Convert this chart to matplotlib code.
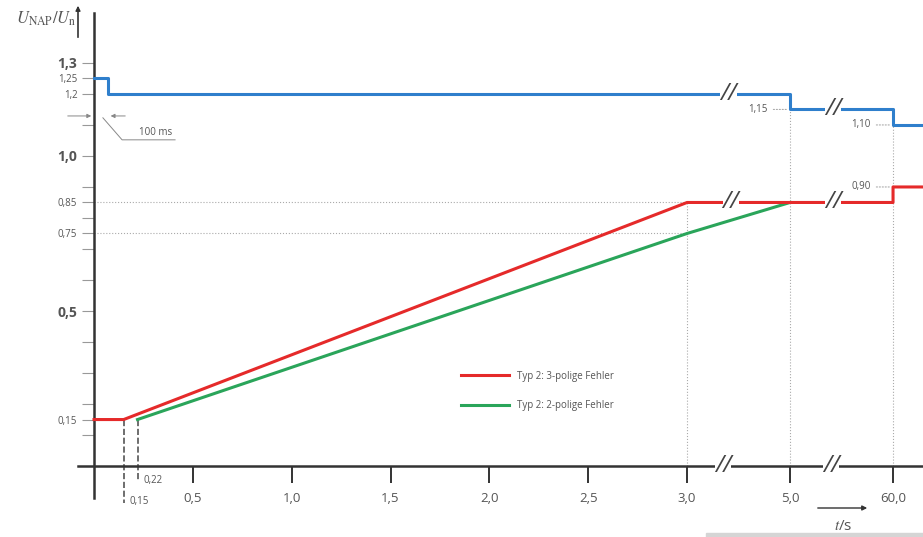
import numpy as np
import matplotlib.pyplot as plt

plt.rcParams['font.family'] = ['Open Sans', 'DejaVu Sans']
plt.rcParams['mathtext.fontset'] = 'stix'

# values (t in s, U in p.u.)
blue_t = [0, 0.07, 5, 60, 76]
blue_u = [1.25, 1.20, 1.15, 1.10, 1.10]
red_t = [0, 0.15, 3, 60, 60, 76]
red_u = [0.15, 0.15, 0.85, 0.85, 0.90, 0.90]
green_t = [0.22, 3, 5]
green_u = [0.15, 0.75, 0.85]

x_ticks = [0.5, 1.0, 1.5, 2.0, 2.5, 3.0, 5.0, 60.0]
x_labels = ['0,5', '1,0', '1,5', '2,0', '2,5', '3,0', '5,0', '60,0']
y_ticks = [0.1, 0.15, 0.2, 0.3, 0.4, 0.5, 0.6, 0.7, 0.75, 0.8, 0.85, 0.9,
           1.0, 1.1, 1.2, 1.25, 1.3]
y_labels = {0.15: '0,15', 0.5: '0,5', 0.75: '0,75', 0.85: '0,85',
            1.0: '1,0', 1.2: '1,2', 1.25: '1,25', 1.3: '1,3'}
y_bold = [0.5, 1.0, 1.3]

# broken time axis: 0..3 s linear, 3..5 s and 5..60 s squeezed
t_knots = [-1, 3, 5, 60, 120]
u_knots = [-1, 3, 3.521, 4.042, 4.042 + 60 * 0.521 / 55]


def fwd(t):
    return np.interp(t, t_knots, u_knots)


def inv(u):
    return np.interp(u, u_knots, t_knots)


axis_col = '#333333'
text_col = '#555555'
grid_col = '#aaaaaa'

fig = plt.figure(figsize=(9.23, 5.37), dpi=100)
ax = fig.add_axes([78 / 923, 39 / 537, 845 / 923, 485 / 537])
ax.set_xscale('function', functions=(fwd, inv))
ax.set_xlim(-0.081, 76)
ax.set_ylim(-0.103, 1.461)

# axes through the origin
for side in ['top', 'right']:
    ax.spines[side].set_visible(False)
ax.spines['left'].set_position(('data', 0))
ax.spines['bottom'].set_position(('data', 0))
for side in ['left', 'bottom']:
    ax.spines[side].set_color(axis_col)
    ax.spines[side].set_linewidth(1.8)

ax.set_xticks(x_ticks, x_labels)
ax.minorticks_off()
ax.tick_params(axis='x', direction='out', length=12, width=1.4, color=axis_col,
               pad=7, labelsize=9.5, labelcolor=text_col)
ax.set_yticks(y_ticks, [y_labels.get(v, '') for v in y_ticks])
ax.tick_params(axis='y', direction='out', length=9, width=0.8, color='#999999',
               pad=3, labelsize=7, labelcolor=text_col)
for v, lab in zip(y_ticks, ax.get_yticklabels()):
    if v in y_bold:
        lab.set_fontsize(10)
        lab.set_fontweight('bold')

# guide lines
dot = dict(color=grid_col, lw=0.8, ls=':', zorder=1)
ax.plot([0, 5], [0.85, 0.85], **dot)
ax.plot([0, 3], [0.75, 0.75], **dot)
ax.plot([3, 3], [0, 0.85], **dot)
ax.plot([5, 5], [0, 1.2], **dot)
ax.plot([60, 60], [0, 1.15], **dot)
ax.plot([0.15, 0.15], [0.15, -0.12], color=text_col, lw=1.2, ls='--', clip_on=False, zorder=1)
ax.plot([0.22, 0.22], [0.15, -0.045], color=text_col, lw=1.2, ls='--', clip_on=False, zorder=1)

# curves
ax.plot(blue_t, blue_u, color='#2f7fcc', lw=2.2, drawstyle='steps-post', zorder=3)
red_line, = ax.plot(red_t, red_u, color='#e52a2a', lw=2.2, zorder=3,
                    label='Typ 2: 3-polige Fehler')
green_line, = ax.plot(green_t, green_u, color='#2aa55a', lw=2.2, zorder=2,
                      label='Typ 2: 2-polige Fehler')

# value labels at the steps
for t, v, txt in [(5, 1.15, '1,15'), (60, 1.10, '1,10'), (60, 0.90, '0,90')]:
    ax.annotate(txt, xy=(t, v), xytext=(-16, 0), textcoords='offset points',
                ha='right', va='center', fontsize=7, color=text_col)
    ax.annotate('', xy=(t, v), xytext=(-14, 0), textcoords='offset points',
                arrowprops=dict(arrowstyle='-', color=grid_col, lw=0.8, ls=':'))
ax.text(0.25, -0.045, '0,22', fontsize=7, color=text_col, va='center')
ax.text(0.18, -0.115, '0,15', fontsize=7, color=text_col, va='center')

# axis breaks
for t, v in [(3.8, 1.2), (28, 1.15), (3.85, 0.85), (28, 0.85), (3.7, 0), (27, 0)]:
    ax.text(t, v, '//', ha='center', va='center', fontsize=17, color='#444444',
            fontstyle='italic', bbox=dict(fc='white', ec='none', pad=0.05),
            zorder=6, clip_on=False)

# 100 ms annotation
gray = '#888888'
ax.annotate('', xy=(0, 1.129), xytext=(-0.147, 1.129),
            arrowprops=dict(arrowstyle='-|>', color=gray, lw=0.7, mutation_scale=6),
            annotation_clip=False)
ax.annotate('', xy=(0.07, 1.129), xytext=(0.172, 1.129),
            arrowprops=dict(arrowstyle='-|>', color=gray, lw=0.7, mutation_scale=6))
ax.plot([0.045, 0.142, 0.41], [1.123, 1.052, 1.052], color=gray, lw=0.7)
ax.text(0.31, 1.075, '100 ms', fontsize=7, color=text_col, ha='center', va='center')

# axis titles with arrows
fig.text(46 / 923, 1 - 19 / 537, r'$U_{\mathrm{NAP}}/U_{\mathrm{n}}$', fontsize=12,
         color=text_col, ha='center', va='center')
fig.add_artist(plt.Line2D([78 / 923, 78 / 923], [1 - 37 / 537, 1 - 8 / 537],
                          color=axis_col, lw=1.2))
ax.annotate('', xy=(78 / 923, 1 - 3 / 537), xytext=(78 / 923, 1 - 12 / 537),
            xycoords='figure fraction', textcoords='figure fraction',
            arrowprops=dict(arrowstyle='-|>', color=axis_col, lw=1, mutation_scale=7))
ax.annotate('', xy=(870 / 923, 1 - 508 / 537), xytext=(815 / 923, 1 - 508 / 537),
            xycoords='figure fraction', textcoords='figure fraction',
            arrowprops=dict(arrowstyle='-|>', color=axis_col, lw=1, mutation_scale=7))
fig.text(843 / 923, 1 - 526 / 537, r'$t$/s', fontsize=11, color=text_col,
         ha='center', va='center')
fig.add_artist(plt.Rectangle((706 / 923, 0), 217 / 923, 4 / 537,
                             color='#d5d5d5', transform=fig.transFigure))

ax.legend(handles=[red_line, green_line], frameon=False, fontsize=7,
          handlelength=5, labelspacing=1.9, labelcolor=text_col,
          loc='upper left', bbox_to_anchor=(452 / 923, 1 - 362 / 537),
          bbox_transform=fig.transFigure)

fig.savefig('out.png', dpi=100)
